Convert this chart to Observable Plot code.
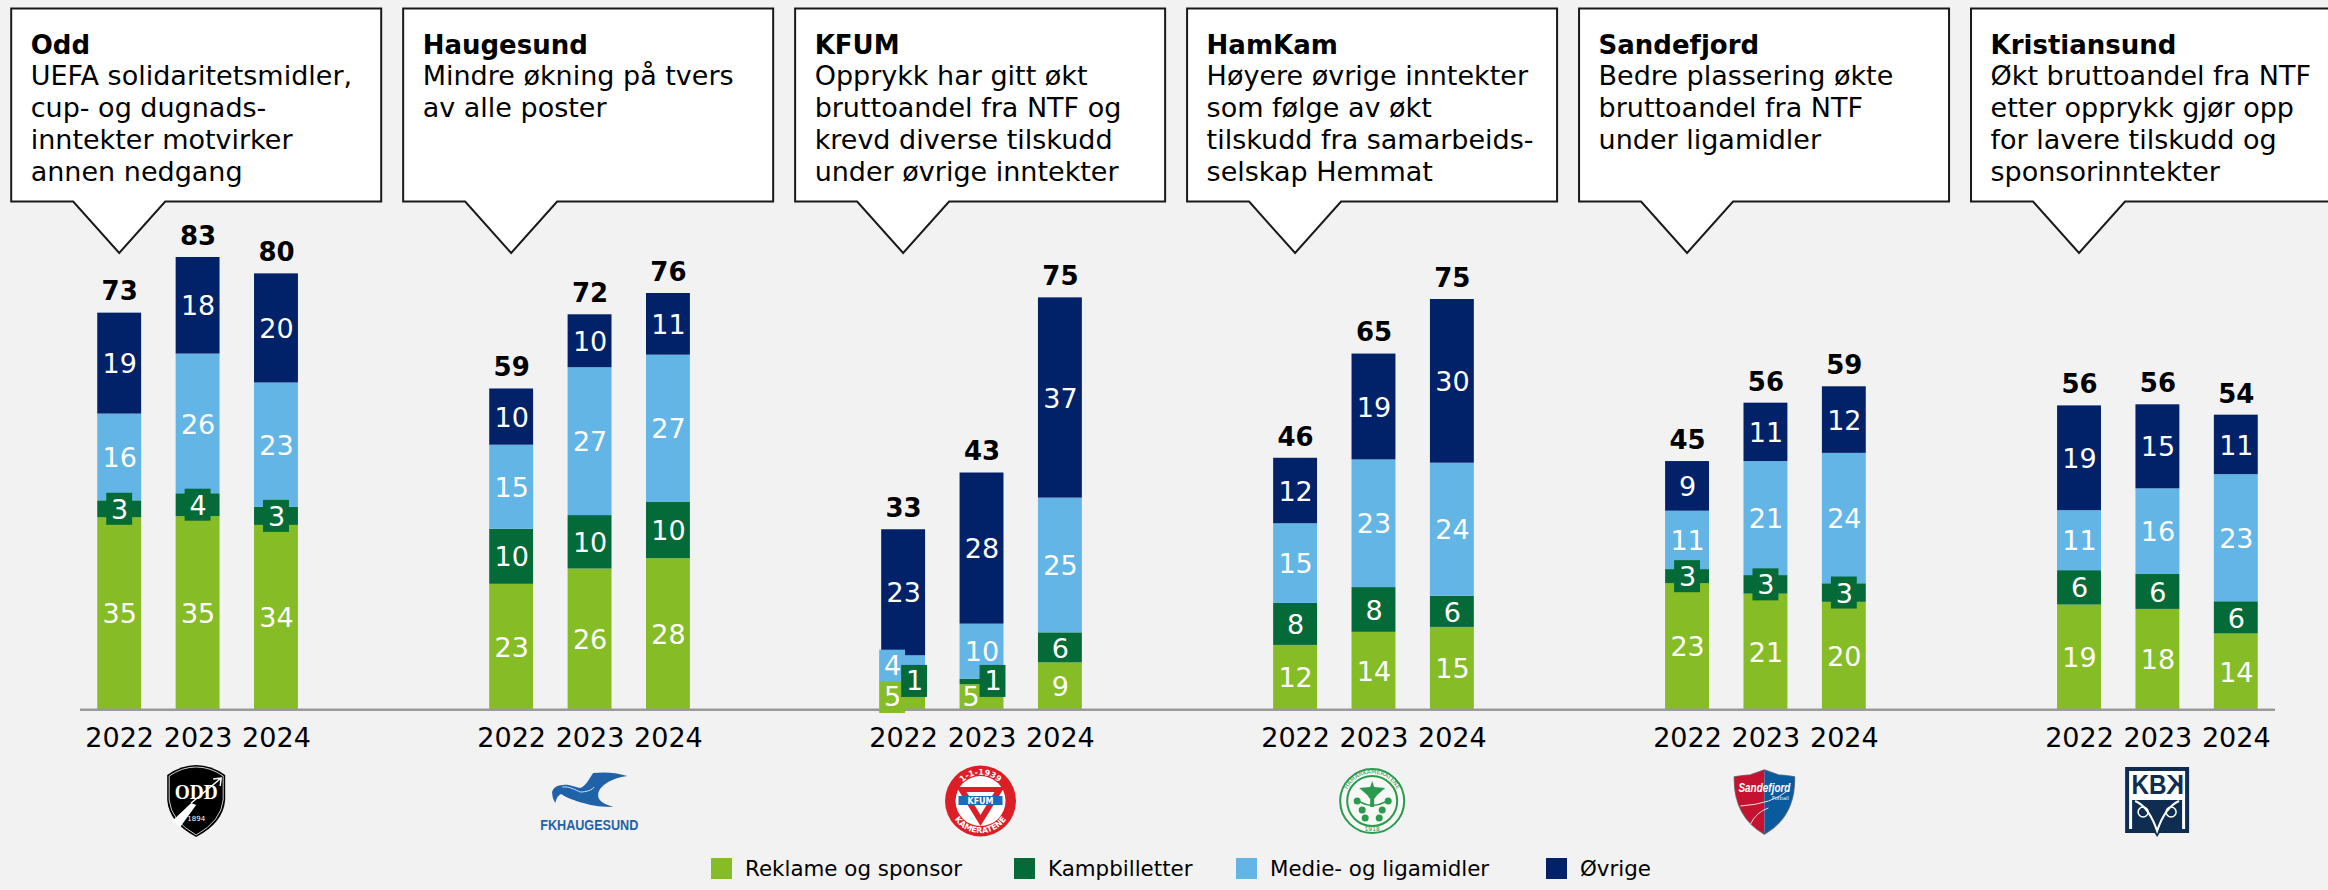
<!DOCTYPE html>
<html lang="no">
<head>
<meta charset="utf-8">
<script src="https://cdn.jsdelivr.net/npm/d3@7"></script>
<script src="https://cdn.jsdelivr.net/npm/@observablehq/plot@0.6"></script>
<style>
html,body{margin:0;padding:0;background:#f2f2f2;width:2328px;height:890px;overflow:hidden;font-family:"DejaVu Sans",Verdana,sans-serif}
#chart{position:absolute;left:0;top:0}
.leg{position:absolute;top:858px;height:21px;display:flex;align-items:center;font-size:21.4px;color:#000;white-space:nowrap}
.leg i{display:block;width:21px;height:21px;margin-right:13px}
</style>
</head>
<body>
<div id="chart"></div>
<div id="legend"></div>
<script>
const clubs = ["Odd","Haugesund","KFUM","HamKam","Sandefjord","Kristiansund"];
const years = [2022,2023,2024];
const seriesNames = ["Reklame og sponsor","Kampbilletter","Medie- og ligamidler","Øvrige"];
const seriesColors = ["#86BC25","#046A38","#62B5E5","#012169"];

const reklame = [35.2,35.4,33.8, 23.0,25.8,27.7, 4.6,4.6,8.6, 11.8,14.2,15.1, 23.1,21.2,19.7, 19.2,18.4,13.9];
const kampbilletter = [3.1,4.2,3.3, 10.1,9.8,10.3, 0.9,1.0,5.5, 7.7,8.2,5.7, 2.6,3.4,3.4, 6.3,6.4,5.9];
const medie = [15.9,25.6,22.8, 15.4,27.1,27.0, 4.4,10.1,24.7, 14.6,23.4,24.4, 10.7,20.9,23.9, 11.0,15.7,23.3];
const ovrige = [18.5,17.7,20.0, 10.3,9.7,11.3, 23.1,27.7,36.7, 12.0,19.4,30.0, 9.1,10.7,12.2, 19.2,15.4,10.9];
const totals = [73,83,80, 59,72,76, 33,43,75, 46,65,75, 45,56,59, 56,56,54];

const callTitles = clubs;
const callNotes = [
  "UEFA solidaritetsmidler,\ncup- og dugnads-\ninntekter motvirker\nannen nedgang",
  "Mindre økning på tvers\nav alle poster",
  "Opprykk har gitt økt\nbruttoandel fra NTF og\nkrevd diverse tilskudd\nunder øvrige inntekter",
  "Høyere øvrige inntekter\nsom følge av økt\ntilskudd fra samarbeids-\nselskap Hemmat",
  "Bedre plassering økte\nbruttoandel fra NTF\nunder ligamidler",
  "Økt bruttoandel fra NTF\netter opprykk gjør opp\nfor lavere tilskudd og\nsponsorinntekter"
];

// KFUM labels set beside each other in the reference
const shiftedLabels = [
  {club:"KFUM",year:2022,series:0,at:2.25,side:-1,box:true},
  {club:"KFUM",year:2022,series:1,at:5.2,side:1,box:true},
  {club:"KFUM",year:2022,series:2,at:8.0,side:-1,box:true},
  {club:"KFUM",year:2023,series:0,at:2.25,side:-1,box:false},
  {club:"KFUM",year:2023,series:1,at:5.2,side:1,box:true}
];

const key = (c,y) => `${c}|${y}`;
const slots = clubs.flatMap((c,i) => [
  ...years.map(y => key(c,y)),
  ...(i < clubs.length-1 ? [`gap${i}a`,`gap${i}b`] : [])
]);
const yearSlots = clubs.flatMap(c => years.map(y => key(c,y)));

const allSeries = [reklame,kampbilletter,medie,ovrige];
const rows = [];
yearSlots.forEach((slot,i) => {
  let base = 0;
  allSeries.forEach((vals,s) => {
    rows.push({slot,club:slot.split("|")[0],year:+slot.split("|")[1],series:s,value:vals[i],y1:base,y2:base+vals[i]});
    base += vals[i];
  });
});
const tops = yearSlots.map((slot,i) => ({slot,total:totals[i],top:d3.sum(allSeries,v=>v[i])}));
const isShifted = r => shiftedLabels.some(s => s.club===r.club && s.year===r.year && s.series===r.series);
const isBoxed = r => r.series===1 && r.value<4.5 && !isShifted(r);
const plainRows = rows.filter(r => !isShifted(r));
const boxedRows = rows.filter(isBoxed);
const shiftedRows = shiftedLabels.map(s => {
  const r = rows.find(r => r.club===s.club && r.year===s.year && r.series===s.series);
  return {...r,...s};
});
const boxHalf = 16/5.456;

const fill = r => seriesColors[r.series];

function callouts(index, scales) {
  const bw = scales.x.bandwidth ? scales.x.bandwidth() : 44;
  const g = d3.create("svg:g");
  clubs.forEach(c => {
    const cx = scales.x(key(c,2022)) + bw/2;
    const p = `M${cx-108},8.5H${cx+262}V201.5H${cx+46}L${cx},253L${cx-46},201.5H${cx-108}Z`;
    g.append("path").attr("d",p).attr("fill","#fff").attr("stroke","#1a1a1a").attr("stroke-width",2);
  });
  return g.node();
}

const bird = "M38,4 C26,0 14,0 4,1 C0,6 -3,14 -9,16 C-16,15 -20,12 -26,13 C-34,13 -38,18 -37,22 C-37,26 -35,29 -34,31 C-33,26 -31,23 -28,22 C-24,25 -14,29 -6,31 C4,34 14,35 24,35 C14,32 8,28 9,22 C10,14 22,6 38,4Z";

function logos(index, scales) {
  const bw = scales.x.bandwidth ? scales.x.bandwidth() : 44;
  const root = d3.create("svg:g");
  const at = (c,dx,y) => root.append("g").attr("transform",`translate(${scales.x(key(c,2023))+bw/2+dx},${y})`);
  const txt = (g,s,x,y,size,col,extra={}) => {
    const t = g.append("text").text(s).attr("x",x).attr("y",y).attr("font-size",size).attr("fill",col).attr("text-anchor","middle").attr("font-family",extra.family||"'DejaVu Sans'");
    if (extra.weight) t.attr("font-weight",extra.weight);
    if (extra.style) t.attr("font-style",extra.style);
    if (extra.len) t.attr("textLength",extra.len).attr("lengthAdjust","spacingAndGlyphs");
    return t;
  };
  // Odd
  let g = at("Odd",-1.4,765);
  g.append("path").attr("d","M-29,10 Q-15,0 0,0 Q15,0 29,10 L29,35 Q27,58 0,72 Q-27,58 -29,35Z").attr("fill","#000");
  g.append("path").attr("d","M-27,11 Q-14,2 0,2 Q14,2 27,11 L27,35 Q25,56 0,70 Q-25,56 -27,35Z").attr("fill","none").attr("stroke","#fff").attr("stroke-width",.8);
  txt(g,"ODD",0,34,21,"#fff",{weight:"bold",family:"'Liberation Serif'",len:43});
  g.append("path").attr("d","M-24,56 L-5,38 L0,40 L-16,62Z").attr("fill","#fff");
  g.append("path").attr("d","M-5,38 L25,13 M17,14 L25,13 L24,21").attr("fill","none").attr("stroke","#fff").attr("stroke-width",1.5);
  txt(g,"1894",0,56,7,"#fff");
  // Haugesund
  g = at("Haugesund",-.3,772);
  g.append("path").attr("d",bird).attr("fill","#1f62a8");
  g.append("path").attr("d","M-27,15 C-20,14 -14,18 -9,20 C-3,20 3,18 5,15").attr("fill","none").attr("stroke","#cfe0f0").attr("stroke-width",1);
  txt(g,"FKHAUGESUND",0,58,14.5,"#1f62a8",{weight:"bold",len:98,family:"'Liberation Sans'"});
  // KFUM
  g = at("KFUM",-1,801);
  g.append("ellipse").attr("rx",35.5).attr("ry",35.5).attr("fill","#dc1f26");
  g.append("ellipse").attr("rx",25).attr("ry",25).attr("fill","#fff");
  g.append("path").attr("d","M-24,-14H24L0,25Z").attr("fill","#dc1f26");
  g.append("path").attr("d","M-14,-9H14L0,14Z").attr("fill","#fff");
  g.append("rect").attr("x",-22).attr("y",-5).attr("width",44).attr("height",9).attr("fill","#1a6bb8");
  txt(g,"KFUM",0,3,8,"#fff",{weight:"bold"});
  g.append("path").attr("id","kf1").attr("d","M-22,-14 A26,26 0 0 1 22,-14").attr("fill","none");
  g.append("text").attr("font-size",8).attr("fill","#fff").attr("font-weight","bold").attr("font-family","'DejaVu Sans'").append("textPath").attr("href","#kf1").attr("startOffset","50%").attr("text-anchor","middle").text("1-1-1939");
  g.append("path").attr("id","kf2").attr("d","M-29,12 A31,31 0 0 0 29,12").attr("fill","none");
  g.append("text").attr("font-size",8).attr("fill","#fff").attr("font-weight","bold").attr("font-family","'DejaVu Sans'").append("textPath").attr("href","#kf2").attr("startOffset","50%").attr("text-anchor","middle").text("KAMERATENE");
  // HamKam
  g = at("HamKam",-1.3,801);
  g.append("circle").attr("r",32).attr("fill","#f7f7f5").attr("stroke","#2a9a4f").attr("stroke-width",2);
  g.append("circle").attr("r",25).attr("fill","#f7f7f5").attr("stroke","#2a9a4f").attr("stroke-width",2);
  g.append("path").attr("d","M0,-20 L2,-14 L13,-13 L5,-6 L2,-2 L2,6 L-2,6 L-2,-2 L-5,-6 L-13,-13 L-2,-14Z").attr("fill","#2a9a4f");
  [[-15,0],[16,0],[-10,9],[10,9],[-7,17],[7,17]].forEach(([x,y]) => g.append("circle").attr("cx",x).attr("cy",y).attr("r",3.5).attr("fill","#2a9a4f"));
  g.append("path").attr("d","M-12,1 Q0,8 13,1").attr("fill","none").attr("stroke","#2a9a4f").attr("stroke-width",1.5);
  g.append("path").attr("id","hk1").attr("d","M-26,9 A27.5,27.5 0 1 1 26,9").attr("fill","none");
  g.append("text").attr("font-size",6).attr("fill","#2a9a4f").attr("font-family","'DejaVu Sans'").append("textPath").attr("href","#hk1").attr("startOffset","50%").attr("text-anchor","middle").text("HAMARKAMERATENE");
  txt(g,"1918",0,30,6,"#2a9a4f");
  // Sandefjord
  g = at("Sandefjord",-1,768);
  g.append("path").attr("d","M-30,9 L-24,8 L-14,7 L0,2 L14,7 L24,8 L30,9 Q31,48 0,66 Q-31,48 -30,9Z").attr("fill","none").attr("stroke","#777").attr("stroke-width",1.5);
  g.append("path").attr("d","M-30,9 L-24,8 L-14,7 L0,2 V66 Q-31,48 -30,9Z").attr("fill","#c41230");
  g.append("path").attr("d","M30,9 L24,8 L14,7 L0,2 V66 Q31,48 30,9Z").attr("fill","#0a5a9e");
  txt(g,"Sandefjord",0,24,13,"#fff",{weight:"bold",style:"italic",len:52,family:"'Liberation Sans'"});
  txt(g,"Fotball",16,32,5,"#fff");
  g.append("path").attr("d","M-24,38 Q8,36 24,22 M-14,56 Q-8,44 4,40").attr("fill","none").attr("stroke","#f0dfe0").attr("stroke-width",1);
  // Kristiansund
  g = at("Kristiansund",-.3,767);
  g.append("rect").attr("x",-32).attr("y",0).attr("width",64).attr("height",66).attr("fill","#0f2d50");
  g.append("rect").attr("x",-28).attr("y",4).attr("width",56).attr("height",58).attr("fill","#fff");
  txt(g,"KB",-8,27,28,"#0f2d50",{weight:"bold",family:"'Liberation Sans'",len:35});
  const mk = g.append("g").attr("transform","translate(18,27) scale(-1,1)");
  txt(mk,"K",0,0,28,"#0f2d50",{weight:"bold",family:"'Liberation Sans'",len:18});
  g.append("path").attr("d","M-25,33 H25 V62 H5 L0,70 L-5,62 H-25Z").attr("fill","#0f2d50");
  g.append("path").attr("d","M-22,34 Q-8,40 0,64 Q8,40 22,34").attr("fill","none").attr("stroke","#fff").attr("stroke-width",2);
  g.append("circle").attr("cx",-14).attr("cy",45).attr("r",5).attr("fill","none").attr("stroke","#fff").attr("stroke-width",1.5);
  g.append("circle").attr("cx",14).attr("cy",45).attr("r",5).attr("fill","none").attr("stroke","#fff").attr("stroke-width",1.5);
  return root.node();
}

const plot = Plot.plot({
  width: 2328,
  height: 850,
  marginLeft: 80,
  marginRight: 53,
  marginTop: 0,
  marginBottom: 140.7,
  style: {background:"transparent",fontFamily:"'DejaVu Sans',Verdana,sans-serif",overflow:"visible"},
  x: {type:"band",domain:slots,paddingInner:.44,paddingOuter:.22,round:false,label:null},
  y: {domain:[0,709.3/5.456],axis:null},
  marks: [
    Plot.barY(rows,{x:"slot",y1:"y1",y2:"y2",fill}),
    Plot.ruleY([0],{stroke:"#9a9a9a",strokeWidth:2.5}),
    Plot.barY(boxedRows,{x:"slot",y1:r=>(r.y1+r.y2)/2-boxHalf,y2:r=>(r.y1+r.y2)/2+boxHalf,fill:seriesColors[1],insetLeft:9,insetRight:9}),
    Plot.barY(shiftedRows.filter(r=>r.box&&r.series===0),{x:"slot",y1:r=>r.at-boxHalf,y2:r=>r.at+boxHalf,fill,insetLeft:9,insetRight:9,dx:-11}),
    Plot.barY(shiftedRows.filter(r=>r.box&&r.series===2),{x:"slot",y1:r=>r.at-boxHalf,y2:r=>r.at+boxHalf,fill,insetLeft:9,insetRight:9,dx:-11}),
    Plot.barY(shiftedRows.filter(r=>r.box&&r.series===1),{x:"slot",y1:r=>r.at-boxHalf,y2:r=>r.at+boxHalf,fill,insetLeft:9,insetRight:9,dx:11}),
    Plot.text(plainRows,{x:"slot",y:r=>(r.y1+r.y2)/2,text:r=>String(Math.round(r.value)),fill:"#fff",fontSize:27,dy:1}),
    Plot.text(shiftedRows.filter(r=>r.side<0),{x:"slot",y:"at",text:r=>String(Math.round(r.value)),fill:"#fff",fontSize:27,dx:-11}),
    Plot.text(shiftedRows.filter(r=>r.side>0),{x:"slot",y:"at",text:r=>String(Math.round(r.value)),fill:"#fff",fontSize:27,dx:11}),
    Plot.text(tops,{x:"slot",y:"top",text:r=>String(r.total),fill:"#000",fontSize:26,fontWeight:"bold",dy:-21}),
    Plot.axisX({ticks:yearSlots,tickFormat:d=>d.split("|")[1],tickSize:0,tickPadding:18,fontSize:27,fill:"#000",label:null}),
    callouts,
    Plot.text(callTitles,{x:d=>key(d,2022),text:d=>d,frameAnchor:"top",dy:35,dx:-89,textAnchor:"start",lineAnchor:"top",fontSize:26,fontWeight:"bold",fill:"#000"}),
    Plot.text(callNotes,{x:(d,i)=>key(clubs[i],2022),text:d=>d,frameAnchor:"top",dy:62,dx:-89,textAnchor:"start",lineAnchor:"top",fontSize:27,lineHeight:32/27,fill:"#000"}),
    logos
  ]
});
document.getElementById("chart").appendChild(plot);

const legendX = [711,1014,1236,1546];
d3.select("#legend").selectAll("div").data(seriesNames).join("div")
  .attr("class","leg").style("left",(d,i)=>legendX[i]+"px")
  .html((d,i)=>`<i style="background:${seriesColors[i]}"></i><span>${d}</span>`);
</script>
</body>
</html>
